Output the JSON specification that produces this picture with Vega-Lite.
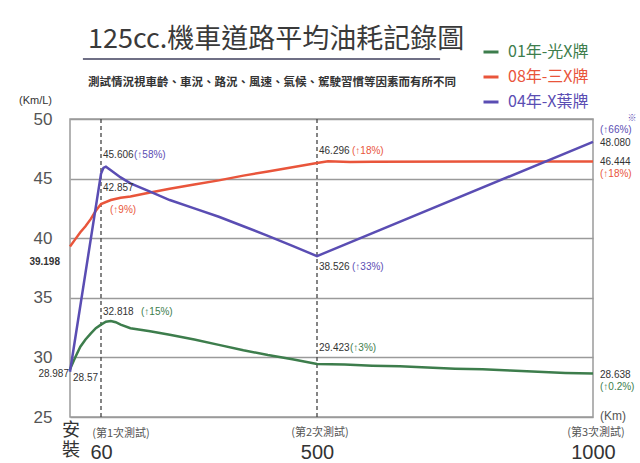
{
  "$schema": "https://vega.github.io/schema/vega-lite/v6.json",
  "width": 523,
  "height": 298,
  "autosize": {"type": "none"},
  "padding": {"left": 70, "top": 119, "right": 47, "bottom": 46},
  "background": "white",
  "title": {
    "text": "125cc.機車道路平均油耗記錄圖",
    "subtitle": "測試情況視車齡、車況、路況、風速、氣候、駕駛習慣等因素而有所不同",
    "anchor": "start",
    "frame": "group",
    "dx": 18,
    "dy": 46,
    "offset": 0,
    "font": "Noto Sans CJK TC",
    "fontSize": 27,
    "fontWeight": "normal",
    "color": "#3a3a3a",
    "subtitleFont": "Noto Sans CJK TC",
    "subtitleFontSize": 11.5,
    "subtitleFontWeight": "bold",
    "subtitleColor": "#333333",
    "subtitlePadding": 23
  },
  "datasets": {
    "lines": [
      {"series": "01年-光X牌", "km": 0, "value": 29.0},
      {"series": "01年-光X牌", "km": 10, "value": 30.0},
      {"series": "01年-光X牌", "km": 20, "value": 30.9},
      {"series": "01年-光X牌", "km": 30, "value": 31.5},
      {"series": "01年-光X牌", "km": 40, "value": 32.0},
      {"series": "01年-光X牌", "km": 50, "value": 32.45},
      {"series": "01年-光X牌", "km": 60, "value": 32.75},
      {"series": "01年-光X牌", "km": 70, "value": 33.0},
      {"series": "01年-光X牌", "km": 80, "value": 33.05},
      {"series": "01年-光X牌", "km": 90, "value": 32.95},
      {"series": "01年-光X牌", "km": 100, "value": 32.75},
      {"series": "01年-光X牌", "km": 120, "value": 32.45},
      {"series": "01年-光X牌", "km": 160, "value": 32.2},
      {"series": "01年-光X牌", "km": 200, "value": 31.9},
      {"series": "01年-光X牌", "km": 250, "value": 31.5},
      {"series": "01年-光X牌", "km": 300, "value": 31.05},
      {"series": "01年-光X牌", "km": 350, "value": 30.6},
      {"series": "01年-光X牌", "km": 400, "value": 30.2},
      {"series": "01年-光X牌", "km": 450, "value": 29.85},
      {"series": "01年-光X牌", "km": 500, "value": 29.45},
      {"series": "01年-光X牌", "km": 550, "value": 29.4},
      {"series": "01年-光X牌", "km": 600, "value": 29.3},
      {"series": "01年-光X牌", "km": 650, "value": 29.25},
      {"series": "01年-光X牌", "km": 700, "value": 29.15},
      {"series": "01年-光X牌", "km": 750, "value": 29.05},
      {"series": "01年-光X牌", "km": 800, "value": 29.0},
      {"series": "01年-光X牌", "km": 850, "value": 28.9},
      {"series": "01年-光X牌", "km": 900, "value": 28.8},
      {"series": "01年-光X牌", "km": 950, "value": 28.7},
      {"series": "01年-光X牌", "km": 1000, "value": 28.64},
      {"series": "08年-三X牌", "km": 0, "value": 39.3},
      {"series": "08年-三X牌", "km": 10, "value": 39.9},
      {"series": "08年-三X牌", "km": 20, "value": 40.5},
      {"series": "08年-三X牌", "km": 30, "value": 41.0},
      {"series": "08年-三X牌", "km": 40, "value": 41.6},
      {"series": "08年-三X牌", "km": 50, "value": 42.3},
      {"series": "08年-三X牌", "km": 60, "value": 42.86},
      {"series": "08年-三X牌", "km": 80, "value": 43.2},
      {"series": "08年-三X牌", "km": 100, "value": 43.4},
      {"series": "08年-三X牌", "km": 120, "value": 43.5},
      {"series": "08年-三X牌", "km": 150, "value": 43.75},
      {"series": "08年-三X牌", "km": 200, "value": 44.15},
      {"series": "08年-三X牌", "km": 250, "value": 44.5},
      {"series": "08年-三X牌", "km": 300, "value": 44.85},
      {"series": "08年-三X牌", "km": 350, "value": 45.25},
      {"series": "08年-三X牌", "km": 400, "value": 45.6},
      {"series": "08年-三X牌", "km": 450, "value": 45.95},
      {"series": "08年-三X牌", "km": 500, "value": 46.3},
      {"series": "08年-三X牌", "km": 520, "value": 46.45},
      {"series": "08年-三X牌", "km": 560, "value": 46.4},
      {"series": "08年-三X牌", "km": 600, "value": 46.42},
      {"series": "08年-三X牌", "km": 800, "value": 46.43},
      {"series": "08年-三X牌", "km": 1000, "value": 46.44},
      {"series": "04年-X葉牌", "km": 0, "value": 28.8},
      {"series": "04年-X葉牌", "km": 60, "value": 45.4},
      {"series": "04年-X葉牌", "km": 65, "value": 45.9},
      {"series": "04年-X葉牌", "km": 70, "value": 46.0},
      {"series": "04年-X葉牌", "km": 80, "value": 45.7},
      {"series": "04年-X葉牌", "km": 100, "value": 45.1},
      {"series": "04年-X葉牌", "km": 120, "value": 44.6},
      {"series": "04年-X葉牌", "km": 160, "value": 43.9},
      {"series": "04年-X葉牌", "km": 200, "value": 43.2},
      {"series": "04年-X葉牌", "km": 250, "value": 42.5},
      {"series": "04年-X葉牌", "km": 300, "value": 41.8},
      {"series": "04年-X葉牌", "km": 350, "value": 41.0},
      {"series": "04年-X葉牌", "km": 400, "value": 40.2},
      {"series": "04年-X葉牌", "km": 450, "value": 39.35},
      {"series": "04年-X葉牌", "km": 500, "value": 38.5},
      {"series": "04年-X葉牌", "km": 1000, "value": 48.08}
    ],
    "nums": [
      {"km": 60, "value": 45.606, "text": "45.606"},
      {"km": 60, "value": 42.857, "text": "42.857"},
      {"km": 60, "value": 32.818, "text": "32.818"},
      {"km": 500, "value": 46.296, "text": "46.296"},
      {"km": 500, "value": 38.526, "text": "38.526"},
      {"km": 500, "value": 29.423, "text": "29.423"},
      {"km": 0, "value": 28.987, "text": "28.987"},
      {"km": 0, "value": 39.198, "text": "39.198"},
      {"km": 0, "value": 28.57, "text": "28.57"},
      {"km": 1000, "value": 48.08, "text": "48.080"},
      {"km": 1000, "value": 46.444, "text": "46.444"},
      {"km": 1000, "value": 28.638, "text": "28.638"}
    ],
    "pcts": [
      {"km": 60, "value": 45.606, "text": "(↑58%)", "series": "04年-X葉牌"},
      {"km": 60, "value": 42.857, "text": "(↑9%)", "series": "08年-三X牌"},
      {"km": 60, "value": 32.818, "text": "(↑15%)", "series": "01年-光X牌"},
      {"km": 500, "value": 46.296, "text": "(↑18%)", "series": "08年-三X牌"},
      {"km": 500, "value": 38.526, "text": "(↑33%)", "series": "04年-X葉牌"},
      {"km": 500, "value": 29.423, "text": "(↑3%)", "series": "01年-光X牌"},
      {"km": 1000, "value": 48.08, "text": "(↑66%)", "series": "04年-X葉牌"},
      {"km": 1000, "value": 46.444, "text": "(↑18%)", "series": "08年-三X牌"},
      {"km": 1000, "value": 28.638, "text": "(↑0.2%)", "series": "01年-光X牌"},
      {"km": 1000, "value": 48.08, "text": "※", "series": "04年-X葉牌"}
    ],
    "xnotes": [
      {"km": 60, "text": "(第1次測試)"},
      {"km": 500, "text": "(第2次測試)"},
      {"km": 1000, "text": "(第3次測試)"},
      {"km": 1000, "text": "(Km)"},
      {"km": 0, "text": "安\n裝"}
    ]
  },
  "layer": [
    {
      "data": {"values": [{"km": 60}, {"km": 500}]},
      "mark": {"type": "rule", "color": "#444444", "strokeWidth": 1.3, "strokeDash": [4, 3]},
      "encoding": {"x": {"field": "km", "type": "quantitative"}}
    },
    {
      "data": {"values": [{"a": 1}]},
      "mark": {"type": "rule", "color": "#6f6f85", "strokeWidth": 2, "clip": false},
      "encoding": {
        "x": {"datum": 25, "type": "quantitative"},
        "x2": {"datum": 723},
        "y": {"datum": 55.03, "type": "quantitative"}
      }
    },
    {
      "data": {"name": "lines"},
      "mark": {"type": "line", "strokeWidth": 2.5},
      "encoding": {
        "x": {
          "field": "km",
          "type": "quantitative",
          "scale": {"domain": [0, 60, 500, 1000], "range": [0, 31, 247, 523], "nice": false, "zero": false},
          "axis": {"values": [60, 500, 1000], "title": null, "format": "d"}
        },
        "y": {
          "field": "value",
          "type": "quantitative",
          "scale": {"domain": [25, 50], "nice": false, "zero": false},
          "axis": {"values": [25, 30, 35, 40, 45, 50], "title": "(Km/L)"}
        },
        "color": {
          "field": "series",
          "type": "nominal",
          "scale": {"domain": ["01年-光X牌", "08年-三X牌", "04年-X葉牌"], "range": ["#3d7d4c", "#e9553b", "#5a4db3"]},
          "legend": {
            "orient": "none",
            "legendX": 412,
            "legendY": -76,
            "title": null,
            "symbolType": "stroke",
            "symbolSize": 225,
            "symbolStrokeWidth": 3,
            "labelFontSize": 16,
            "labelFont": "Noto Sans CJK TC",
            "labelOffset": 8,
            "rowPadding": 8,
            "encode": {"labels": {"update": {"fill": {"signal": "scale('color', datum.value)"}}}}
          }
        }
      }
    },
    {
      "data": {"name": "nums"},
      "transform": [{"filter": "datum.text==='45.606' || datum.text==='42.857' || datum.text==='29.423'"}],
      "mark": {"type": "text", "align": "left", "baseline": "middle", "dx": 2, "dy": -16, "fontSize": 10, "font": "Liberation Sans", "color": "#333333"},
      "encoding": {"x": {"field": "km", "type": "quantitative"}, "y": {"field": "value", "type": "quantitative"}, "text": {"field": "text"}}
    },
    {
      "data": {"name": "nums"},
      "transform": [{"filter": "datum.text==='32.818' || datum.text==='46.296'"}],
      "mark": {"type": "text", "align": "left", "baseline": "middle", "dx": 2, "dy": -12, "fontSize": 10, "font": "Liberation Sans", "color": "#333333"},
      "encoding": {"x": {"field": "km", "type": "quantitative"}, "y": {"field": "value", "type": "quantitative"}, "text": {"field": "text"}}
    },
    {
      "data": {"name": "nums"},
      "transform": [{"filter": "datum.text==='38.526'"}],
      "mark": {"type": "text", "align": "left", "baseline": "middle", "dx": 2, "dy": 11, "fontSize": 10, "font": "Liberation Sans", "color": "#333333"},
      "encoding": {"x": {"field": "km", "type": "quantitative"}, "y": {"field": "value", "type": "quantitative"}, "text": {"field": "text"}}
    },
    {
      "data": {"name": "nums"},
      "transform": [{"filter": "datum.text==='28.987'"}],
      "mark": {"type": "text", "align": "right", "baseline": "middle", "dx": -1, "dy": 5, "fontSize": 10, "font": "Liberation Sans", "color": "#333333"},
      "encoding": {"x": {"field": "km", "type": "quantitative"}, "y": {"field": "value", "type": "quantitative"}, "text": {"field": "text"}}
    },
    {
      "data": {"name": "nums"},
      "transform": [{"filter": "datum.text==='39.198'"}],
      "mark": {"type": "text", "align": "right", "baseline": "middle", "dx": -10, "dy": 14, "fontSize": 10, "font": "Liberation Sans", "fontWeight": "bold", "color": "#333333"},
      "encoding": {"x": {"field": "km", "type": "quantitative"}, "y": {"field": "value", "type": "quantitative"}, "text": {"field": "text"}}
    },
    {
      "data": {"name": "nums"},
      "transform": [{"filter": "datum.text==='28.57'"}],
      "mark": {"type": "text", "align": "left", "baseline": "middle", "dx": 3, "dy": 4, "fontSize": 10, "font": "Liberation Sans", "color": "#333333"},
      "encoding": {"x": {"field": "km", "type": "quantitative"}, "y": {"field": "value", "type": "quantitative"}, "text": {"field": "text"}}
    },
    {
      "data": {"name": "nums"},
      "transform": [{"filter": "datum.km===1000"}],
      "mark": {"type": "text", "align": "left", "baseline": "middle", "dx": 7, "dy": 1, "fontSize": 10, "font": "Liberation Sans", "color": "#333333"},
      "encoding": {"x": {"field": "km", "type": "quantitative"}, "y": {"field": "value", "type": "quantitative"}, "text": {"field": "text"}}
    },
    {
      "data": {"name": "pcts"},
      "transform": [{"filter": "datum.text==='(↑58%)' || datum.text==='(↑3%)'"}],
      "mark": {"type": "text", "align": "left", "baseline": "middle", "dx": 33, "dy": -16, "fontSize": 10, "font": "Liberation Sans"},
      "encoding": {"x": {"field": "km", "type": "quantitative"}, "y": {"field": "value", "type": "quantitative"}, "text": {"field": "text"}, "color": {"field": "series", "type": "nominal", "legend": null}}
    },
    {
      "data": {"name": "pcts"},
      "transform": [{"filter": "datum.text==='(↑15%)'"}],
      "mark": {"type": "text", "align": "left", "baseline": "middle", "dx": 40, "dy": -12, "fontSize": 10, "font": "Liberation Sans"},
      "encoding": {"x": {"field": "km", "type": "quantitative"}, "y": {"field": "value", "type": "quantitative"}, "text": {"field": "text"}, "color": {"field": "series", "type": "nominal", "legend": null}}
    },
    {
      "data": {"name": "pcts"},
      "transform": [{"filter": "datum.text==='(↑18%)' && datum.km===500"}],
      "mark": {"type": "text", "align": "left", "baseline": "middle", "dx": 35, "dy": -12, "fontSize": 10, "font": "Liberation Sans"},
      "encoding": {"x": {"field": "km", "type": "quantitative"}, "y": {"field": "value", "type": "quantitative"}, "text": {"field": "text"}, "color": {"field": "series", "type": "nominal", "legend": null}}
    },
    {
      "data": {"name": "pcts"},
      "transform": [{"filter": "datum.text==='(↑33%)'"}],
      "mark": {"type": "text", "align": "left", "baseline": "middle", "dx": 35, "dy": 11, "fontSize": 10, "font": "Liberation Sans"},
      "encoding": {"x": {"field": "km", "type": "quantitative"}, "y": {"field": "value", "type": "quantitative"}, "text": {"field": "text"}, "color": {"field": "series", "type": "nominal", "legend": null}}
    },
    {
      "data": {"name": "pcts"},
      "transform": [{"filter": "datum.text==='(↑9%)'"}],
      "mark": {"type": "text", "align": "left", "baseline": "middle", "dx": 9, "dy": 6, "fontSize": 10, "font": "Liberation Sans"},
      "encoding": {"x": {"field": "km", "type": "quantitative"}, "y": {"field": "value", "type": "quantitative"}, "text": {"field": "text"}, "color": {"field": "series", "type": "nominal", "legend": null}}
    },
    {
      "data": {"name": "pcts"},
      "transform": [{"filter": "datum.text==='(↑66%)'"}],
      "mark": {"type": "text", "align": "left", "baseline": "middle", "dx": 7, "dy": -12, "fontSize": 10, "font": "Liberation Sans"},
      "encoding": {"x": {"field": "km", "type": "quantitative"}, "y": {"field": "value", "type": "quantitative"}, "text": {"field": "text"}, "color": {"field": "series", "type": "nominal", "legend": null}}
    },
    {
      "data": {"name": "pcts"},
      "transform": [{"filter": "datum.km===1000 && (datum.text==='(↑18%)' || datum.text==='(↑0.2%)')"}],
      "mark": {"type": "text", "align": "left", "baseline": "middle", "dx": 7, "dy": 13, "fontSize": 10, "font": "Liberation Sans"},
      "encoding": {"x": {"field": "km", "type": "quantitative"}, "y": {"field": "value", "type": "quantitative"}, "text": {"field": "text"}, "color": {"field": "series", "type": "nominal", "legend": null}}
    },
    {
      "data": {"name": "pcts"},
      "transform": [{"filter": "datum.text==='※'"}],
      "mark": {"type": "text", "align": "center", "baseline": "middle", "dx": 39, "dy": -24, "fontSize": 9, "font": "Noto Sans CJK TC"},
      "encoding": {"x": {"field": "km", "type": "quantitative"}, "y": {"field": "value", "type": "quantitative"}, "text": {"field": "text"}, "color": {"field": "series", "type": "nominal", "legend": null}}
    },
    {
      "data": {"name": "xnotes"},
      "transform": [{"filter": "datum.text==='(第1次測試)'"}],
      "mark": {"type": "text", "align": "center", "baseline": "middle", "dx": 20, "dy": 17, "fontSize": 11, "font": "Noto Sans CJK TC", "color": "#555555"},
      "encoding": {"x": {"field": "km", "type": "quantitative"}, "y": {"datum": 25, "type": "quantitative"}, "text": {"field": "text"}}
    },
    {
      "data": {"name": "xnotes"},
      "transform": [{"filter": "datum.text==='(第2次測試)' || datum.text==='(第3次測試)'"}],
      "mark": {"type": "text", "align": "center", "baseline": "middle", "dx": 3, "dy": 16, "fontSize": 11, "font": "Noto Sans CJK TC", "color": "#555555"},
      "encoding": {"x": {"field": "km", "type": "quantitative"}, "y": {"datum": 25, "type": "quantitative"}, "text": {"field": "text"}}
    },
    {
      "data": {"name": "xnotes"},
      "transform": [{"filter": "datum.text==='(Km)'"}],
      "mark": {"type": "text", "align": "center", "baseline": "middle", "dx": 20, "dy": -1, "fontSize": 12, "font": "Liberation Sans", "color": "#555555"},
      "encoding": {"x": {"field": "km", "type": "quantitative"}, "y": {"datum": 25, "type": "quantitative"}, "text": {"field": "text"}}
    },
    {
      "data": {"name": "xnotes"},
      "transform": [{"filter": "datum.km===0"}],
      "mark": {"type": "text", "align": "center", "baseline": "top", "dx": 1, "dy": 5, "fontSize": 18, "lineHeight": 20, "lineBreak": "\n", "font": "Noto Sans CJK TC", "color": "#333333"},
      "encoding": {"x": {"field": "km", "type": "quantitative"}, "y": {"datum": 25, "type": "quantitative"}, "text": {"field": "text"}}
    }
  ],
  "config": {
    "view": {"stroke": "#9a9a9a", "strokeWidth": 1.5},
    "axisX": {"grid": false, "domain": false, "ticks": false, "tickSize": 0, "labelPadding": 25, "labelFontSize": 20, "labelColor": "#333333", "labelFont": "Liberation Sans", "labelFlush": false, "labelOverlap": false},
    "axisY": {"grid": true, "gridColor": "#9a9a9a", "gridWidth": 1.5, "domain": false, "ticks": false, "tickSize": 0, "labelPadding": 18, "labelFontSize": 17, "labelColor": "#555555", "labelFont": "Liberation Sans", "titleAngle": 0, "titleX": -35, "titleY": -19, "titleAlign": "center", "titleBaseline": "middle", "titleFontSize": 11, "titleFontWeight": "normal", "titleColor": "#333333", "titleFont": "Liberation Sans"}
  }
}
